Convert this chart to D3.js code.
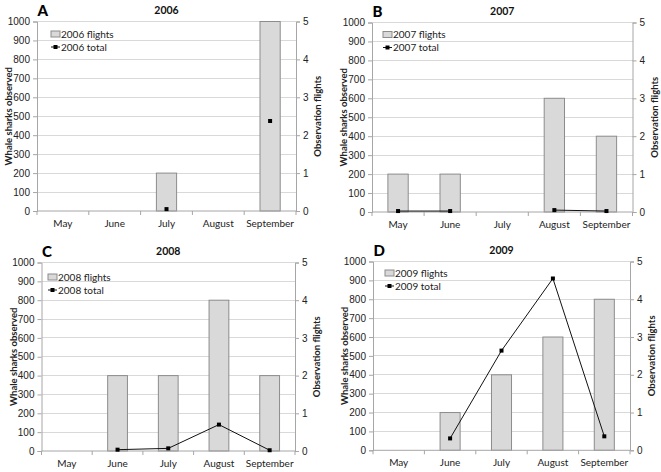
<!DOCTYPE html>
<html><head><meta charset="utf-8">
<script src="https://cdn.jsdelivr.net/npm/d3@7"></script>
<style>
body{margin:0;background:#fff;}
svg{display:block;font-family:Lato,"Open Sans",sans-serif;}
</style></head>
<body><svg id="c" width="661" height="472"></svg>
<script>
const months = ["May","June","July","August","September"];
const years = ["2006","2007","2008","2009"];
const letters = ["A","B","C","D"];
const flights2006 = [0,0,1,0,5];
const total2006 = [null,null,10,null,475];
const flights2007 = [1,1,0,3,2];
const total2007 = [5,5,null,10,5];
const flights2008 = [0,2,2,4,2];
const total2008 = [null,7,14,140,4];
const flights2009 = [0,1,2,3,4];
const total2009 = [null,63,528,910,74];
const leftTicks = [0,100,200,300,400,500,600,700,800,900,1000];
const rightTicks = [0,1,2,3,4,5];

const flightsAll = [flights2006, flights2007, flights2008, flights2009];
const totalAll = [total2006, total2007, total2008, total2009];
// plot rectangles [left, right, top, bottom] and legend offsets
const frames = [[37,296,21.5,211],[372,632.5,22.5,212],[41.5,295,262.5,451],[373,630,261.5,450.3]];
const legendOff = [[14,12.5],[11,12],[6.5,14.5],[12,11.5]];

const svg = d3.select("#c");
const gridCol = "#d9d9d9", axCol = "#a6a6a6", txt = "#222";

years.forEach((yr,i)=>{
  const [L,R,T,B] = frames[i];
  const g = svg.append("g");
  const x = d3.scaleBand().domain(months).range([L,R]).padding(0);
  const yL = d3.scaleLinear().domain([0,1000]).range([B,T]);
  const yR = d3.scaleLinear().domain([0,5]).range([B,T]);
  g.append("g").selectAll("line").data(leftTicks.filter(v=>v>0)).join("line")
    .attr("x1",L).attr("x2",R).attr("y1",d=>yL(d)).attr("y2",d=>yL(d))
    .attr("stroke",gridCol).attr("stroke-width",1).attr("shape-rendering","crispEdges");
  const bw = x.bandwidth()*0.39;
  g.append("g").selectAll("rect").data(months.map((m,k)=>({m,v:flightsAll[i][k]})).filter(d=>d.v>0)).join("rect")
    .attr("x",d=>x(d.m)+x.bandwidth()/2-bw/2).attr("width",bw)
    .attr("y",d=>yR(d.v)).attr("height",d=>B-yR(d.v))
    .attr("fill","#d9d9d9").attr("stroke","#8c8c8c").attr("stroke-width",1);
  const aL = g.append("g").attr("transform",`translate(${L},0)`)
    .call(d3.axisLeft(yL).tickValues(leftTicks).tickSize(4).tickFormat(d3.format("d")).tickPadding(3));
  const aR = g.append("g").attr("transform",`translate(${R},0)`)
    .call(d3.axisRight(yR).tickValues(rightTicks).tickSize(4).tickFormat(d3.format("d")).tickPadding(3));
  [aL,aR].forEach(a=>{
    a.select(".domain").attr("stroke",axCol);
    a.selectAll(".tick line").attr("stroke",axCol);
    a.selectAll(".tick text").attr("fill",txt).style("font-size","10px");
  });
  g.append("line").attr("x1",L).attr("x2",R).attr("y1",B).attr("y2",B).attr("stroke",axCol);
  const bounds = months.map(m=>x(m)).concat([R]);
  g.append("g").selectAll("line").data(bounds).join("line")
    .attr("x1",d=>d).attr("x2",d=>d).attr("y1",B).attr("y2",B+4).attr("stroke",axCol);
  g.append("g").selectAll("text").data(months).join("text")
    .attr("x",d=>x(d)+x.bandwidth()/2).attr("y",B+16).attr("text-anchor","middle")
    .attr("fill",txt).style("font-size","10px").text(d=>d);
  const pts = months.map((m,k)=>({m,v:totalAll[i][k]}));
  const line = d3.line().defined(d=>d.v!=null).x(d=>x(d.m)+x.bandwidth()/2).y(d=>yL(d.v));
  g.append("path").datum(pts).attr("d",line).attr("fill","none").attr("stroke","#111").attr("stroke-width",1);
  g.append("g").selectAll("rect").data(pts.filter(d=>d.v!=null)).join("rect")
    .attr("x",d=>x(d.m)+x.bandwidth()/2-2).attr("y",d=>yL(d.v)-2).attr("width",4).attr("height",4).attr("fill","#000");
  g.append("text").attr("x",(L+R)/2).attr("y",T-8).attr("text-anchor","middle")
    .style("font-size","10.5px").style("font-weight","bold").attr("fill","#111").text(yr);
  g.append("text").attr("x",L+0.5).attr("y",T-6)
    .style("font-size","15px").style("font-weight","900").attr("fill","#000").text(letters[i]);
  g.append("text").attr("transform",`translate(${L-28},${(T+B)/2}) rotate(-90)`).attr("text-anchor","middle")
    .attr("dy","0.35em").style("font-size","9.5px").style("font-weight","bold").attr("fill",txt).text("Whale sharks observed");
  g.append("text").attr("transform",`translate(${R+22},${(T+B)/2}) rotate(-90)`).attr("text-anchor","middle")
    .attr("dy","0.35em").style("font-size","9.5px").style("font-weight","bold").attr("fill",txt).text("Observation flights");
  const lx = L+legendOff[i][0], ly = T+legendOff[i][1];
  g.append("rect").attr("x",lx).attr("y",ly-3).attr("width",9).attr("height",6)
    .attr("fill","#d9d9d9").attr("stroke","#8c8c8c");
  g.append("text").attr("x",lx+10).attr("y",ly).attr("dy","0.35em").style("font-size","10px").attr("fill",txt).text(yr+" flights");
  g.append("line").attr("x1",lx).attr("x2",lx+9).attr("y1",ly+13).attr("y2",ly+13).attr("stroke","#111");
  g.append("rect").attr("x",lx+2.5).attr("y",ly+11).attr("width",4).attr("height",4).attr("fill","#000");
  g.append("text").attr("x",lx+10).attr("y",ly+13).attr("dy","0.35em").style("font-size","10px").attr("fill",txt).text(yr+" total");
});
</script></body></html>
